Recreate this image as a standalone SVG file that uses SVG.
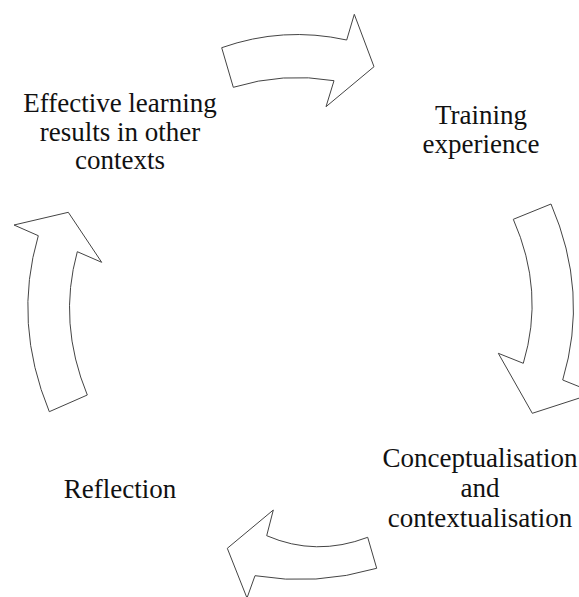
<svg xmlns="http://www.w3.org/2000/svg" width="579" height="597" viewBox="0 0 579 597">
<style>
.lbl{font-family:"Liberation Serif","Times New Roman",serif;font-size:27px;fill:#111;text-anchor:middle}
.arr{fill:#fff;stroke:#444;stroke-width:1;stroke-linejoin:miter}
</style>
<rect width="579" height="597" fill="#fff"/>
<g id="connectors">
<path class="arr" d="M221.7,47.7 Q283,26 346.7,40 L354.3,14.3 L374,66.7 L326,106.7 L334,80.7 Q283,72 233.3,87.3 Z"/>
<path class="arr" d="M513.3,219.3 L551,204 Q589,292 562.7,380 L595,393 L532.3,413.3 L498.3,353.3 L523.3,363.3 Q545,291 513.3,219.3 Z"/>
<path class="arr" d="M367.7,537.3 Q316,557 266.7,535.7 L273.3,510 L227.3,548.3 L247,598 L255,575.7 Q316,586 376.7,568.3 Z"/>
<path class="arr" d="M49.3,411.7 L87.3,395 Q57.7,323 77.3,251.7 L101.7,262.3 L68.3,212.3 L14,225 L38.3,235.7 Q12.8,323 49.3,411.7 Z"/>
</g>
<g id="node-effective">
<text class="lbl" x="120" y="112">Effective learning</text>
<text class="lbl" x="120" y="141">results in other</text>
<text class="lbl" x="120" y="169">contexts</text>
</g>
<g id="node-training">
<text class="lbl" x="481" y="124">Training</text>
<text class="lbl" x="481" y="153">experience</text>
</g>
<g id="node-conceptualisation">
<text class="lbl" x="480" y="467">Conceptualisation</text>
<text class="lbl" x="480" y="497">and</text>
<text class="lbl" x="480" y="527">contextualisation</text>
</g>
<g id="node-reflection">
<text class="lbl" x="120" y="498">Reflection</text>
</g>
</svg>
